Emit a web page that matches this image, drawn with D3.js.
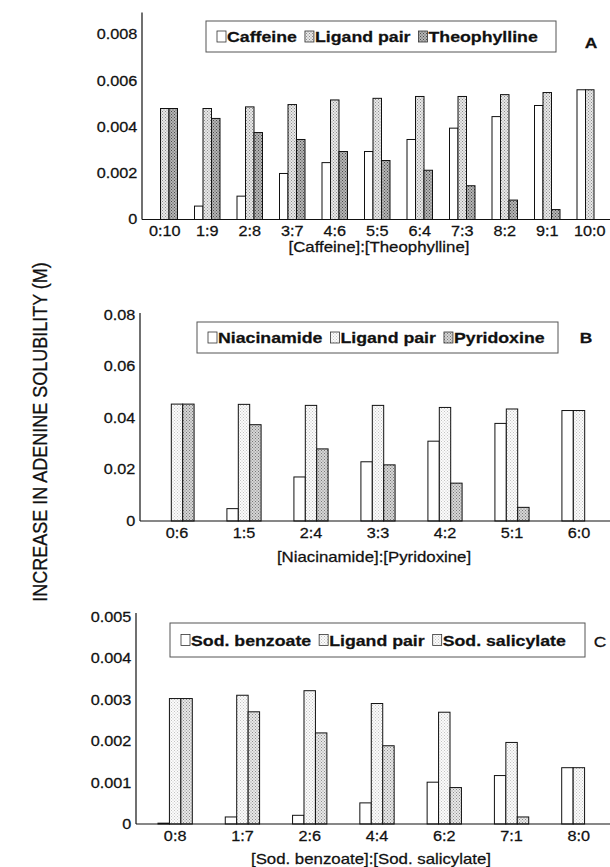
<!DOCTYPE html>
<html>
<head>
<meta charset="utf-8">
<script src="https://cdn.jsdelivr.net/npm/d3@7"></script>
<style>
body { margin: 0; background: #fff; }
svg { display: block; font-family: "Liberation Sans", Arial, sans-serif; }
svg text { stroke: #111; stroke-width: 0.25px; }
</style>
</head>
<body>
<div id="chart"></div>
<script>
const width = 610;
const height = 867;
const SX = 1.16;   // the scanned figure is a bit stretched sideways

//-----------------------------DATA-----------------------------//
// panel A
const ratiosA = ["0:10", "1:9", "2:8", "3:7", "4:6", "5:5", "6:4", "7:3", "8:2", "9:1", "10:0"];
const caffeine = [0, 0.00058, 0.00101, 0.00199, 0.00246, 0.00294, 0.00346, 0.00395, 0.00445, 0.00493, 0.00561];
const ligandA = [0.00480, 0.00480, 0.00487, 0.00497, 0.00517, 0.00524, 0.00532, 0.00532, 0.00540, 0.00549, 0.00561];
const theophylline = [0.00480, 0.00437, 0.00376, 0.00346, 0.00294, 0.00255, 0.00213, 0.00146, 0.00084, 0.00043, 0];
const legendA = ["Caffeine", "Ligand pair", "Theophylline"];
const ticksA = [0, 0.002, 0.004, 0.006, 0.008];

// panel B
const ratiosB = ["0:6", "1:5", "2:4", "3:3", "4:2", "5:1", "6:0"];
const niacinamide = [0, 0.0048, 0.0171, 0.0230, 0.0310, 0.0379, 0.0429];
const ligandB = [0.0454, 0.0453, 0.0449, 0.0449, 0.0441, 0.0435, 0.0429];
const pyridoxine = [0.0454, 0.0374, 0.0280, 0.0218, 0.0147, 0.0053, 0];
const legendB = ["Niacinamide", "Ligand pair", "Pyridoxine"];
const ticksB = [0, 0.02, 0.04, 0.06, 0.08];

// panel C
const ratiosC = ["0:8", "1:7", "2:6", "4:4", "6:2", "7:1", "8:0"];
const benzoate = [0.00002, 0.00017, 0.00021, 0.00051, 0.00101, 0.00117, 0.00136];
const ligandC = [0.00303, 0.00311, 0.00322, 0.00291, 0.00270, 0.00197, 0.00136];
const salicylate = [0.00303, 0.00271, 0.00220, 0.00189, 0.00088, 0.00017, 0];
const legendC = ["Sod. benzoate", "Ligand pair", "Sod. salicylate"];
const ticksC = [0, 0.001, 0.002, 0.003, 0.004, 0.005];

const yTitle = "INCREASE IN ADENINE SOLUBILITY (M)";

//----------------------------LAYOUT----------------------------//
const panels = [
    { tag: "A", cats: ratiosA, series: [caffeine, ligandA, theophylline], names: legendA, ticks: ticksA, digits: 3,
      title: "[Caffeine]:[Theophylline]",
      axisX: 142, base: 219.5, topVal: 0.008, topY: 34.5, axisTop: 12.5, xRange: [143.5, 611], pad: 0.4,
      fills: ["white", "url(#light)", "url(#dark)"], keys: ["white", "url(#light)", "url(#dark)"],
      box: [206, 21, 556, 52], tagPos: [591, 43], tagBold: true, titleY: 247, titleX: 379 },
    { tag: "B", cats: ratiosB, series: [niacinamide, ligandB, pyridoxine], names: legendB, ticks: ticksB, digits: 2,
      title: "[Niacinamide]:[Pyridoxine]",
      axisX: 140, base: 521, topVal: 0.08, topY: 315, axisTop: 313, xRange: [143.5, 612.5], pad: 0.49,
      fills: ["white", "url(#sparse)", "url(#mid)"], keys: ["white", "url(#sparse)", "url(#mid)"],
      box: [197, 322, 558, 353], tagPos: [586, 338], tagBold: true, titleY: 557, titleX: 374 },
    { tag: "C", cats: ratiosC, series: [benzoate, ligandC, salicylate], names: legendC, ticks: ticksC, digits: 3,
      title: "[Sod. benzoate]:[Sod. salicylate]",
      axisX: 136, base: 824, topVal: 0.005, topY: 617, axisTop: 613, xRange: [141.5, 612.5], pad: 0.49,
      fills: ["white", "url(#sparse)", "url(#light)"], keys: ["white", "url(#sparse)", "url(#sparse)"],
      box: [170, 623, 585, 657], tagPos: [600, 642], tagBold: false, titleY: 859, titleX: 371 }
];

const svg = d3.select("#chart").append("svg")
    .attr("width", width)
    .attr("height", height);

// stipple fills, like the printed screens
const defs = svg.append("defs");
function stipple(id, bg, dot) {
    const p = defs.append("pattern")
        .attr("id", id)
        .attr("patternUnits", "userSpaceOnUse")
        .attr("width", 3).attr("height", 3);
    p.append("rect").attr("width", 3).attr("height", 3).attr("fill", bg);
    p.append("rect").attr("x", 0).attr("y", 0).attr("width", 1).attr("height", 1).attr("fill", dot);
    p.append("rect").attr("x", 1.5).attr("y", 1.5).attr("width", 1).attr("height", 1).attr("fill", dot);
}
stipple("sparse", "#fbfbfb", "#c4c4c4");
stipple("light", "#e8e8e8", "#8c8c8c");
stipple("mid", "#d6d6d6", "#777");
stipple("dark", "#b5b5b5", "#4a4a4a");

// text placed with the sideways stretch
function put(g, x, y, txt, size, bold, anchor) {
    return g.append("text")
        .attr("transform", `translate(${x},${y}) scale(${SX},1)`)
        .attr("text-anchor", anchor || "middle")
        .attr("dy", "0.35em")
        .style("font-size", size + "px")
        .style("font-weight", bold ? "bold" : "normal")
        .attr("fill", "#111")
        .text(txt);
}

//-------------------------DRAWING---------------------------//
panels.forEach(function(p) {
    const g = svg.append("g");

    const x0 = d3.scaleBand().domain(p.cats).range(p.xRange).paddingInner(p.pad).paddingOuter(p.pad / 2);
    const x1 = d3.scaleBand().domain([0, 1, 2]).range([0, x0.bandwidth()]);
    const y = d3.scaleLinear().domain([0, p.topVal]).range([p.base, p.topY]);

    // bars
    p.series.forEach(function(vals, s) {
        g.append("g").selectAll("rect")
            .data(vals)
            .join("rect")
            .attr("x", (d, i) => x0(p.cats[i]) + x1(s))
            .attr("y", d => y(d))
            .attr("width", x1.bandwidth())
            .attr("height", d => y(0) - y(d))
            .attr("fill", p.fills[s])
            .attr("stroke", "#111")
            .attr("stroke-width", 1);
    });

    // axes
    const yaxis = d3.axisLeft(y)
        .tickValues(p.ticks)
        .tickSize(0)
        .tickPadding(4)
        .tickFormat(d => d === 0 ? "0" : d.toFixed(p.digits));
    const ya = g.append("g")
        .attr("transform", `translate(${p.axisX},0)`)
        .call(yaxis);
    ya.select(".domain").remove();
    ya.selectAll("text")
        .style("font-size", "14px")
        .style("font-family", "Liberation Sans, Arial, sans-serif")
        .attr("fill", "#111")
        .attr("transform", `scale(${SX},1)`);

    const xaxis = d3.axisBottom(x0)
        .tickSize(0)
        .tickPadding(7);
    const xa = g.append("g")
        .attr("transform", `translate(0,${p.base})`)
        .call(xaxis);
    xa.select(".domain").remove();
    xa.selectAll("text")
        .style("font-size", "14px")
        .style("font-family", "Liberation Sans, Arial, sans-serif")
        .attr("fill", "#111")
        .attr("transform", `scale(${SX},1)`);

    g.append("line")
        .attr("x1", p.axisX).attr("x2", width)
        .attr("y1", p.base).attr("y2", p.base)
        .attr("stroke", "#111").attr("stroke-width", 1.2);
    g.append("line")
        .attr("x1", p.axisX).attr("x2", p.axisX)
        .attr("y1", p.base).attr("y2", p.axisTop)
        .attr("stroke", "#111").attr("stroke-width", 1.2);

    put(g, p.titleX, p.titleY, p.title, 14.5, false);

    // legend
    const [bx0, by0, bx1, by1] = p.box;
    g.append("rect")
        .attr("x", bx0).attr("y", by0)
        .attr("width", bx1 - bx0).attr("height", by1 - by0)
        .attr("fill", "white")
        .attr("stroke", "#555").attr("stroke-width", 1);
    const cy = (by0 + by1) / 2;
    let cx = bx0 + 11;
    p.names.forEach(function(name, s) {
        g.append("rect")
            .attr("x", cx).attr("y", cy - 5.5)
            .attr("width", 9).attr("height", 11)
            .attr("fill", p.keys[s])
            .attr("stroke", "#333").attr("stroke-width", 0.8);
        const t = put(g, cx + 10, cy + 0.5, name, 15.3, true, "start");
        cx += 10 + t.node().getComputedTextLength() * SX + 8;
    });

    put(g, p.tagPos[0], p.tagPos[1], p.tag, 15, p.tagBold);
});

// shared y title
svg.append("text")
    .attr("transform", `translate(40,432) scale(${SX},1) rotate(-90)`)
    .attr("text-anchor", "middle")
    .attr("dy", "0.35em")
    .style("font-size", "18px")
    .attr("fill", "#111")
    .text(yTitle);
</script>
</body>
</html>
